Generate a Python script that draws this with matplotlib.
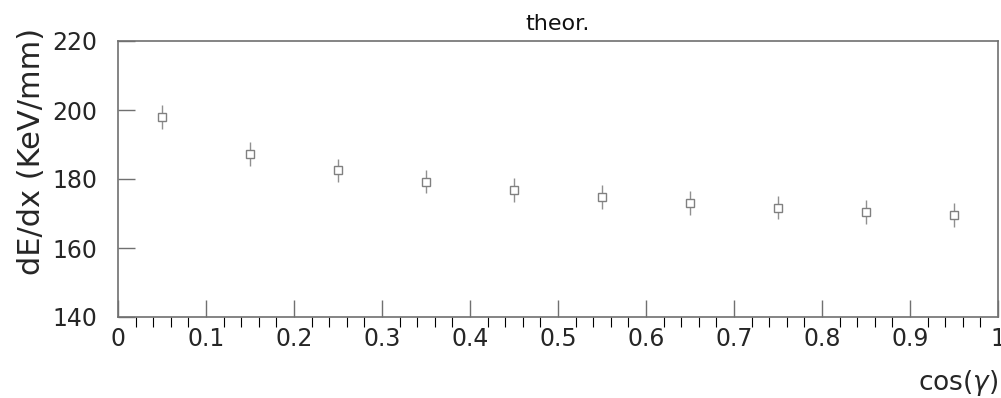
import numpy as np
import matplotlib
matplotlib.use("Agg")
import matplotlib.pyplot as plt

# values
cos_gamma = [0.05, 0.15, 0.25, 0.35, 0.45, 0.55, 0.65, 0.75, 0.85, 0.95]
dedx = [198.0, 187.3, 182.5, 179.2, 176.8, 174.8, 173.1, 171.7, 170.5, 169.5]
dedx_err = [3.4, 3.4, 3.4, 3.4, 3.4, 3.4, 3.4, 3.4, 3.4, 3.4]

x_ticks = [0, 0.1, 0.2, 0.3, 0.4, 0.5, 0.6, 0.7, 0.8, 0.9, 1]
x_ticklabels = ["0", "0.1", "0.2", "0.3", "0.4", "0.5", "0.6", "0.7", "0.8", "0.9", "1"]
y_ticks = [140, 160, 180, 200, 220]

plt.rcParams['font.family'] = ['DejaVu Sans']
plt.rcParams['mathtext.fontset'] = 'dejavusans'
axis_col = "#707070"
text_col = "#262626"

fig = plt.figure(figsize=(10.01, 3.98), dpi=100)
ax = fig.add_axes([118/1001, 1 - 317/398, 880/1001, 276/398])

ax.errorbar(cos_gamma, dedx, yerr=dedx_err, fmt='s', ms=5.5, mfc='white',
            mec='#808080', mew=1.0, ecolor='#909090', elinewidth=1.0,
            capsize=0)

ax.set_xlim(0, 1)
ax.set_ylim(140, 220)
ax.set_xticks(x_ticks)
ax.set_xticklabels(x_ticklabels)
ax.set_xticks(np.arange(0, 1.001, 0.02), minor=True)
ax.set_yticks(y_ticks)

ax.tick_params(axis='both', direction='in', colors=axis_col, labelcolor=text_col,
               labelsize=17, width=1.0)
ax.tick_params(axis='x', which='major', length=12, pad=7)
ax.tick_params(axis='x', which='minor', length=7, width=0.8)
ax.tick_params(axis='y', which='major', length=12, pad=15)
for sp in ax.spines.values():
    sp.set_color(axis_col)
    sp.set_linewidth(1.2)

ax.text(-0.098, 1.047, "dE/dx (KeV/mm)", transform=ax.transAxes, rotation=90,
        ha='center', va='top', fontsize=22, color=text_col)
ax.text(1.0, -0.24, r"cos($\gamma$)", transform=ax.transAxes,
        ha='right', va='center', fontsize=19, color=text_col)
ax.text(0.5, 1.062, "theor.", transform=ax.transAxes, ha='center', va='center',
        fontsize=16, color='#111111')

fig.savefig("out.png", dpi=100)
